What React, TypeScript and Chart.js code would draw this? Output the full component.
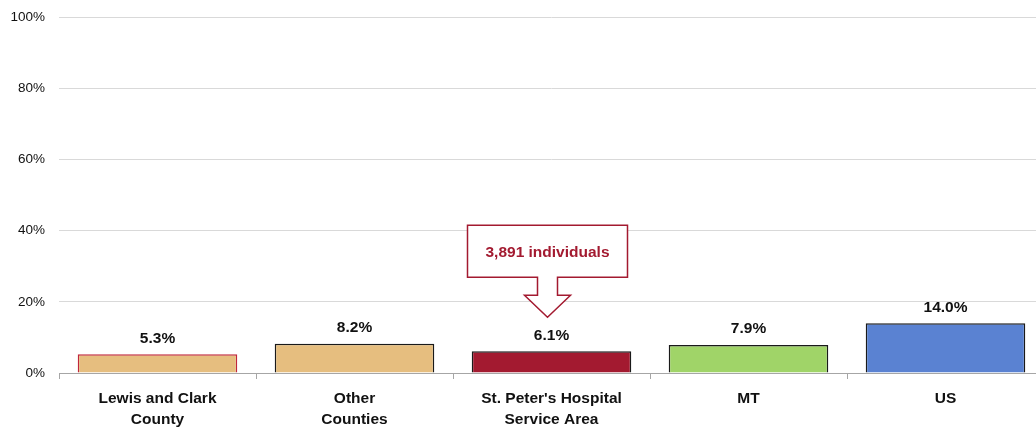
import React, { useEffect, useRef } from "react";
import { Chart, registerables } from "chart.js";

Chart.register(...registerables);

const categories: string[][] = [
  ["Lewis and Clark", "County"],
  ["Other", "Counties"],
  ["St. Peter's Hospital", "Service Area"],
  ["MT"],
  ["US"],
];
const values: number[] = [5.3, 8.2, 6.1, 7.9, 14.0];
const valueLabels: string[] = ["5.3%", "8.2%", "6.1%", "7.9%", "14.0%"];
const fillColors: string[] = ["#E6BE7F", "#E6BE7F", "#A31A30", "#A0D468", "#5A82D2"];
const borderColors: string[] = ["#C0263A", "#1a1a1a", "#1a1a1a", "#1a1a1a", "#1a1a1a"];
const yTicks: number[] = [0, 20, 40, 60, 80, 100];
const calloutText = "3,891 individuals";
const calloutIndex = 2;

const FONT = "'Liberation Sans', Arial, sans-serif";

const labelPlugin = {
  id: "valueLabels",
  afterDatasetsDraw(chart: any) {
    const ctx = chart.ctx;
    const meta = chart.getDatasetMeta(0);
    ctx.save();
    ctx.font = `bold 15.5px ${FONT}`;
    ctx.fillStyle = "#111";
    ctx.textAlign = "center";
    ctx.textBaseline = "bottom";
    meta.data.forEach((bar: any, i: number) => {
      ctx.fillText(valueLabels[i], bar.x, bar.y - 8);
    });

    // callout
    const bar = meta.data[calloutIndex];
    const cx = bar.x - 4;
    const tipY = bar.y - 34;
    const wingY = tipY - 22;
    const neckTop = wingY - 18;
    const boxTop = neckTop - 52;
    const boxL = cx - 80;
    const boxR = cx + 80;
    ctx.beginPath();
    ctx.moveTo(boxL, boxTop);
    ctx.lineTo(boxR, boxTop);
    ctx.lineTo(boxR, neckTop);
    ctx.lineTo(cx + 10, neckTop);
    ctx.lineTo(cx + 10, wingY);
    ctx.lineTo(cx + 23, wingY);
    ctx.lineTo(cx, tipY);
    ctx.lineTo(cx - 23, wingY);
    ctx.lineTo(cx - 10, wingY);
    ctx.lineTo(cx - 10, neckTop);
    ctx.lineTo(boxL, neckTop);
    ctx.closePath();
    ctx.fillStyle = "#ffffff";
    ctx.fill();
    ctx.strokeStyle = "#A31A30";
    ctx.lineWidth = 1.5;
    ctx.stroke();
    ctx.fillStyle = "#A31A30";
    ctx.font = `bold 15.5px ${FONT}`;
    ctx.textBaseline = "middle";
    ctx.fillText(calloutText, cx, (boxTop + neckTop) / 2 + 1);
    ctx.restore();
  },
};

export default function App() {
  const ref = useRef<HTMLCanvasElement | null>(null);
  useEffect(() => {
    if (!ref.current) return;
    const chart = new Chart(ref.current, {
      type: "bar",
      data: {
        labels: categories,
        datasets: [
          {
            data: values,
            backgroundColor: fillColors,
            borderColor: borderColors,
            borderWidth: 1.5,
            barPercentage: 0.81,
            categoryPercentage: 1,
          },
        ],
      },
      options: {
        animation: false,
        responsive: true,
        maintainAspectRatio: false,
        layout: { padding: { top: 5, right: 1, left: 0, bottom: 0 } },
        plugins: { legend: { display: false }, tooltip: { enabled: false } },
        scales: {
          x: {
            grid: {
              display: true,
              drawOnChartArea: false,
              drawTicks: true,
              tickLength: 6,
              color: "#a6a6a6",
              offset: true,
            },
            border: { display: true, color: "#a6a6a6", width: 1 },
            ticks: {
              color: "#111",
              font: { family: FONT, size: 15.5, weight: "bold", lineHeight: 1.35 },
              padding: 9,
              maxRotation: 0,
              autoSkip: false,
            },
            afterFit(scale: any) {
              scale.height = 56;
            },
          },
          y: {
            min: 0,
            max: 100,
            afterBuildTicks(scale: any) {
              scale.ticks = yTicks.map((v) => ({ value: v }));
            },
            grid: { color: "#d9d9d9", drawTicks: false },
            border: { display: false },
            ticks: {
              color: "#111",
              font: { family: FONT, size: 13.5 },
              padding: 14,
              callback: (v: any) => `${v}%`,
            },
            afterFit(scale: any) {
              scale.width = 59;
            },
          },
        },
      },
      plugins: [labelPlugin],
    });
    return () => chart.destroy();
  }, []);
  return (
    <div style={{ position: "absolute", left: 0, top: 0, width: 1036, height: 429, overflow: "hidden", background: "#fff" }}>
      <div style={{ position: "absolute", left: 0, top: -5, width: 1045, height: 434 }}>
        <canvas ref={ref} />
      </div>
    </div>
  );
}
